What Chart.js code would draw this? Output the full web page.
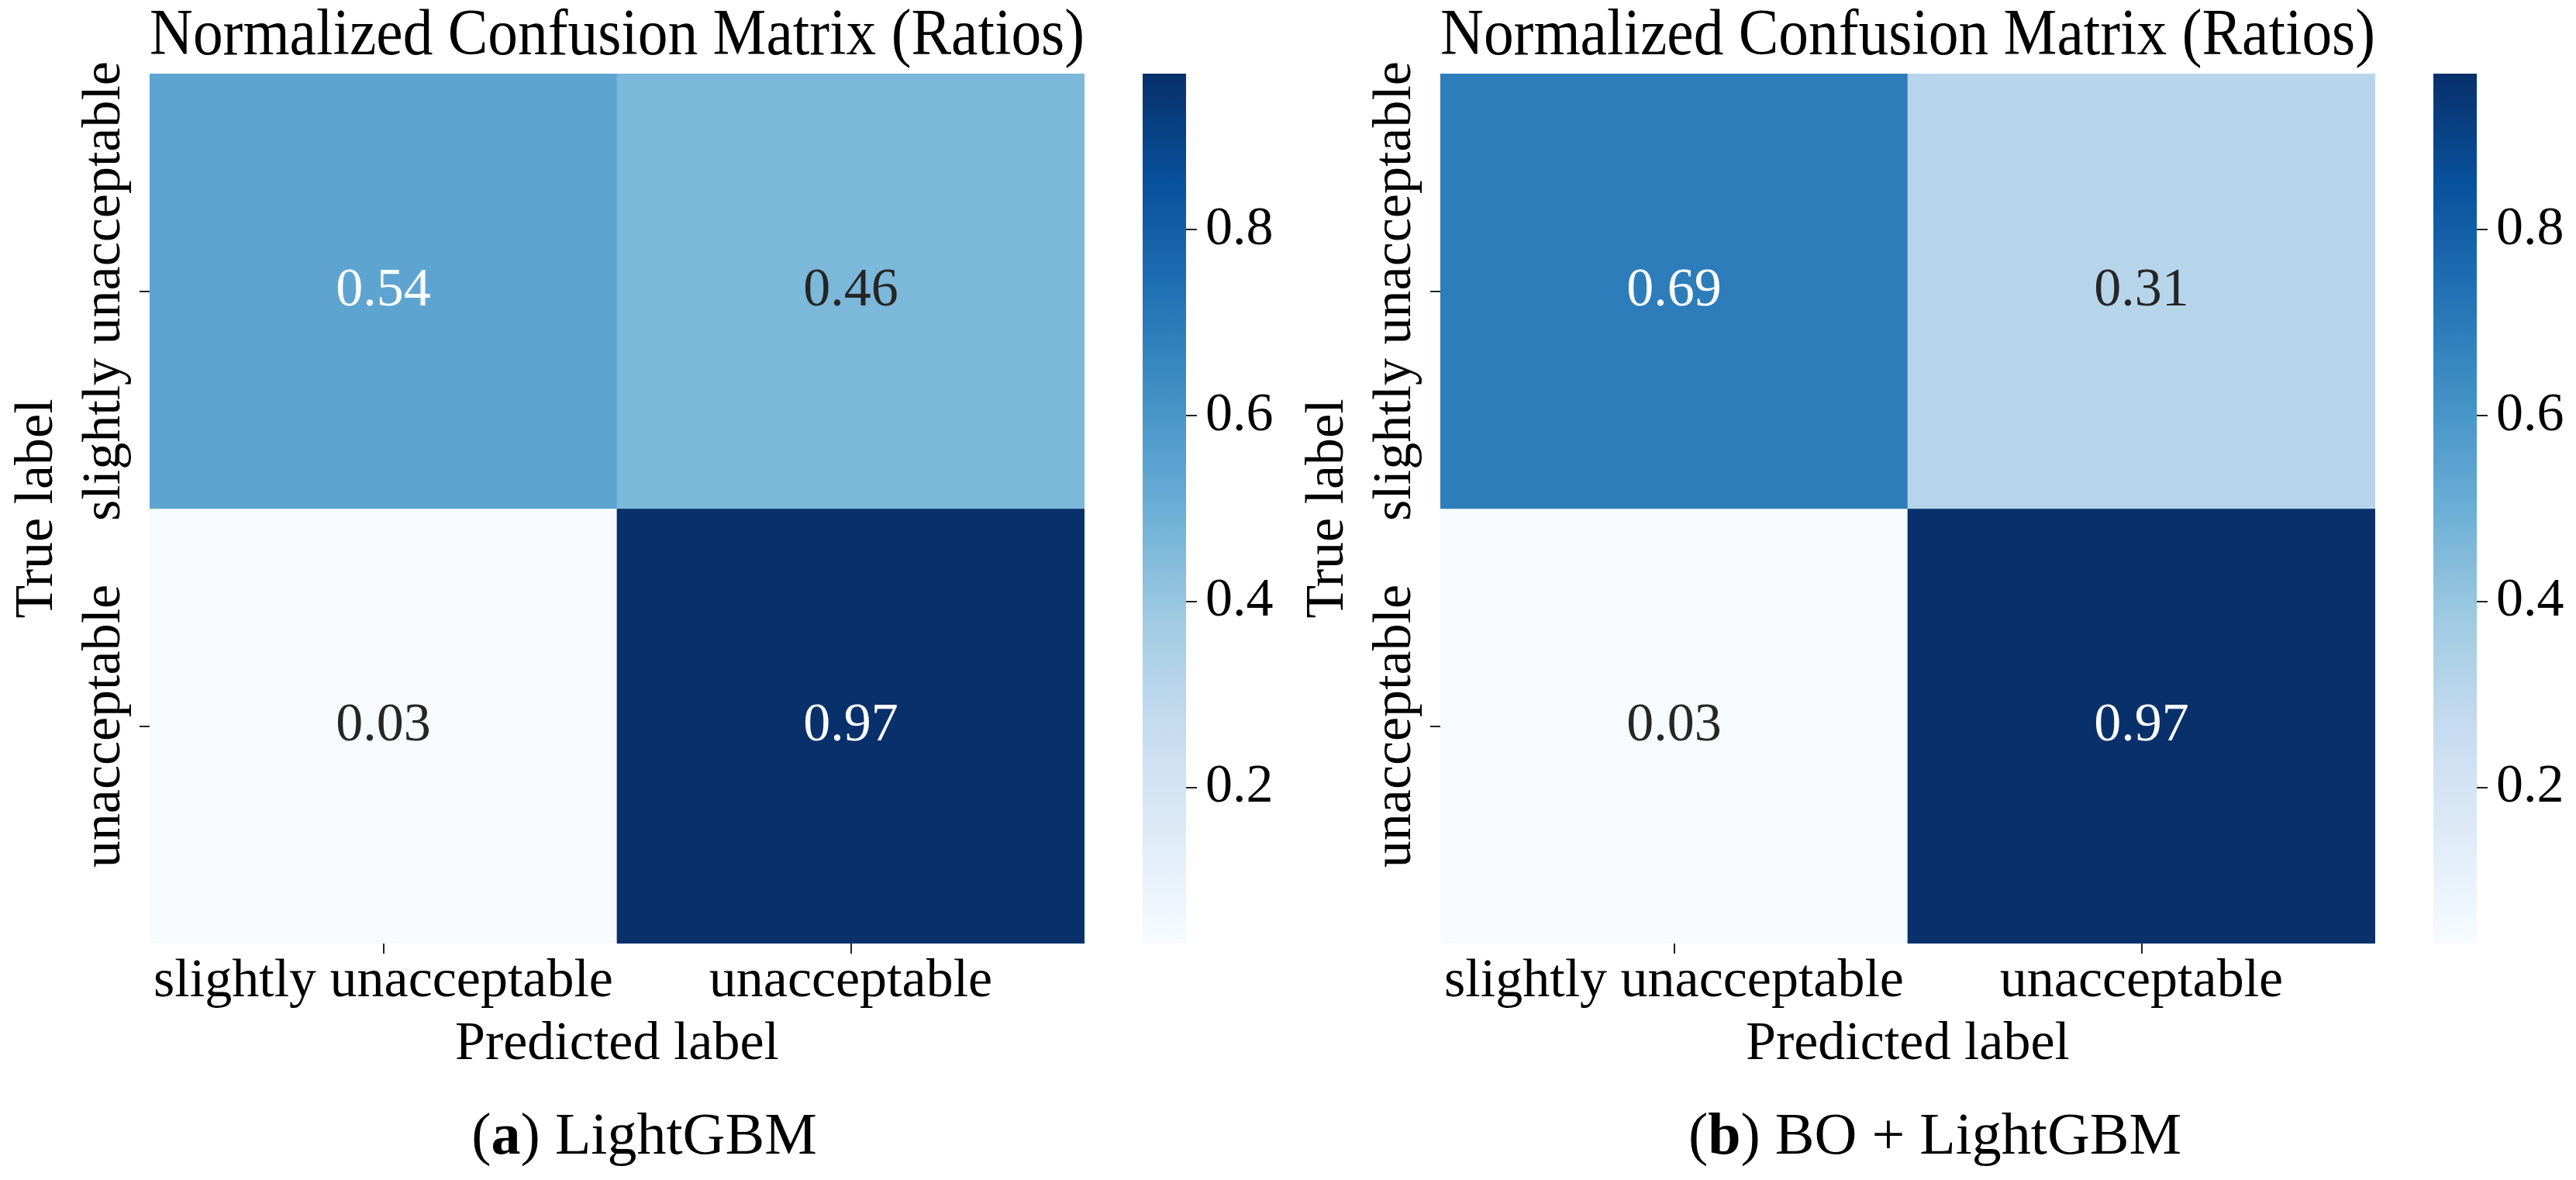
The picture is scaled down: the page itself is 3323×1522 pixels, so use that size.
<!DOCTYPE html>
<html>
<head>
<meta charset="utf-8">
<script src="https://cdn.jsdelivr.net/npm/chart.js@4.4.1/dist/chart.umd.min.js"></script>
<style>
  html, body { margin: 0; padding: 0; background: #ffffff; }
  body { width: 3323px; height: 1522px; position: relative; overflow: hidden;
         font-family: "Liberation Serif", "Times New Roman", serif; }
  .box { position: absolute; }
  .cap { position: absolute; top: 1424px; font-size: 76px; line-height: 76px; white-space: nowrap;
         transform: translateX(-50%); color: #000; }
</style>
</head>
<body>
<div class="box" style="left:0px;top:0px;width:1420px;height:1417px"><canvas id="heatA"></canvas></div>
<div class="box" style="left:1400px;top:0px;width:250px;height:1417px"><canvas id="barA"></canvas></div>
<div class="box" style="left:1665px;top:0px;width:1420px;height:1417px"><canvas id="heatB"></canvas></div>
<div class="box" style="left:3065px;top:0px;width:250px;height:1417px"><canvas id="barB"></canvas></div>
<div class="cap" style="left:831px">(<b>a</b>) LightGBM</div>
<div class="cap" style="left:2496px">(<b>b</b>) BO + LightGBM</div>

<script>
// ---------------- data ----------------
const predictedLabels = ['slightly unacceptable', 'unacceptable'];
const trueLabels = ['slightly unacceptable', 'unacceptable'];
const ratiosLightGBM = [[0.54, 0.46], [0.032, 0.968]];
const ratiosBOLightGBM = [[0.69, 0.31], [0.032, 0.968]];
const colorbarTicks = [0.2, 0.4, 0.6, 0.8];
const chartTitle = 'Normalized Confusion Matrix (Ratios)';
const xAxisTitle = 'Predicted label';
const yAxisTitle = 'True label';

// ---------------- style ----------------
const FONT = '"Liberation Serif", "Times New Roman", serif';
const BLUES = ['#f7fbff', '#deebf7', '#c6dbef', '#9ecae1', '#6baed6', '#4292c6', '#2171b5', '#08519c', '#08306b'];
const TICK_COLOR = '#222222';

function hexToRgb(h) {
  return [parseInt(h.slice(1, 3), 16), parseInt(h.slice(3, 5), 16), parseInt(h.slice(5, 7), 16)];
}
function blues(t) {
  t = Math.max(0, Math.min(1, t));
  const p = t * 8;
  const i = Math.min(7, Math.floor(p));
  const f = p - i;
  const a = hexToRgb(BLUES[i]), b = hexToRgb(BLUES[i + 1]);
  const c = a.map((v, k) => Math.round(v + (b[k] - v) * f));
  return 'rgb(' + c.join(',') + ')';
}
function luminance(rgbStr) {
  const c = rgbStr.match(/\d+/g).map(Number).map(v => {
    v /= 255;
    return v <= 0.03928 ? v / 12.92 : Math.pow((v + 0.055) / 1.055, 2.4);
  });
  return 0.2126 * c[0] + 0.7152 * c[1] + 0.0722 * c[2];
}

const cellLabelPlugin = {
  id: 'cellLabels',
  afterDatasetsDraw(chart) {
    const ctx = chart.ctx;
    ctx.save();
    ctx.font = '70px ' + FONT;
    ctx.textAlign = 'center';
    ctx.textBaseline = 'alphabetic';
    chart.data.datasets.forEach((ds, di) => {
      const meta = chart.getDatasetMeta(di);
      meta.data.forEach((el, j) => {
        const v = ds.values[j];
        ctx.fillStyle = luminance(ds.backgroundColor[j]) > 0.408 ? '#262626' : '#ffffff';
        ctx.fillText(v.toFixed(2), el.x, (el.y + el.base) / 2 + 18);
      });
    });
    ctx.restore();
  }
};

const yTickLabelPlugin = {
  id: 'yTickLabels',
  afterDraw(chart) {
    const s = chart.scales.y, ctx = chart.ctx;
    ctx.save();
    ctx.font = '70px ' + FONT;
    ctx.fillStyle = '#000000';
    ctx.textAlign = 'center';
    ctx.textBaseline = 'alphabetic';
    trueLabels.forEach((lab, i) => {
      const y = s.getPixelForValue(i + 0.5);
      ctx.save();
      ctx.translate(s.right - 39, y);
      ctx.rotate(-Math.PI / 2);
      ctx.fillText(lab, 0, 0);
      ctx.restore();
    });
    ctx.restore();
  }
};

function heatmap(canvasId, matrix) {
  const flat = matrix.flat();
  const vmin = Math.min(...flat), vmax = Math.max(...flat);
  const color = v => blues((v - vmin) / (vmax - vmin));
  const datasets = matrix.map((row, r) => ({
    data: row.map(() => [r, r + 1]),
    values: row,
    backgroundColor: row.map(color),
    borderWidth: 0,
    barPercentage: 1,
    categoryPercentage: 1,
    grouped: false
  }));
  return new Chart(document.getElementById(canvasId), {
    type: 'bar',
    data: { labels: predictedLabels, datasets },
    options: {
      responsive: true,
      maintainAspectRatio: false,
      animation: false,
      layout: { padding: { left: 0, right: 21, top: 0, bottom: 0 } },
      plugins: {
        legend: { display: false },
        tooltip: { enabled: false },
        title: {
          display: true, text: chartTitle, fullSize: false, color: '#000000',
          font: { family: FONT, size: 84, weight: 'normal', lineHeight: 1 },
          padding: { top: 6, bottom: 5 }
        }
      },
      scales: {
        x: {
          type: 'category',
          offset: true,
          grid: { offset: false, drawOnChartArea: false, drawTicks: true, tickLength: 13, color: TICK_COLOR, lineWidth: 2 },
          border: { display: false },
          ticks: { color: '#000000', font: { family: FONT, size: 70, lineHeight: 1 }, padding: 2,
                   maxRotation: 0, minRotation: 0, autoSkip: false },
          title: { display: true, text: xAxisTitle, color: '#000000',
                   font: { family: FONT, size: 70, lineHeight: 1 }, padding: { top: 0, bottom: 34 } },
          afterFit: s => { s.height = 200; }
        },
        y: {
          type: 'linear',
          min: 0, max: 2,
          reverse: true,
          grid: { drawOnChartArea: false, drawTicks: true, tickLength: 13, color: TICK_COLOR, lineWidth: 2 },
          border: { display: false },
          afterBuildTicks: s => { s.ticks = trueLabels.map((_, i) => ({ value: i + 0.5 })); },
          ticks: { display: false },
          title: { display: true, text: yAxisTitle, color: '#000000',
                   font: { family: FONT, size: 70, lineHeight: 1 }, padding: { top: 14, bottom: 0 } },
          afterFit: s => { s.width = 193; }
        }
      }
    },
    plugins: [cellLabelPlugin, yTickLabelPlugin]
  });
}

function colorbar(canvasId, matrix) {
  const flat = matrix.flat();
  const vmin = Math.min(...flat), vmax = Math.max(...flat);
  return new Chart(document.getElementById(canvasId), {
    type: 'bar',
    data: {
      labels: [''],
      datasets: [{
        data: [[vmin, vmax]],
        borderWidth: 0,
        barPercentage: 1,
        categoryPercentage: 1,
        backgroundColor: (c) => {
          const ch = c.chart;
          if (!ch.chartArea) return BLUES[4];
          const y0 = ch.scales.y.getPixelForValue(vmin);
          const y1 = ch.scales.y.getPixelForValue(vmax);
          const g = ch.ctx.createLinearGradient(0, y0, 0, y1);
          BLUES.forEach((col, i) => g.addColorStop(i / 8, col));
          return g;
        }
      }]
    },
    options: {
      responsive: true,
      maintainAspectRatio: false,
      animation: false,
      layout: { padding: { left: 74, right: 0, top: 95, bottom: 200 } },
      plugins: { legend: { display: false }, tooltip: { enabled: false } },
      scales: {
        x: { display: false },
        y: {
          position: 'right',
          min: vmin, max: vmax,
          afterBuildTicks: s => { s.ticks = colorbarTicks.map(v => ({ value: v })); },
          ticks: { callback: v => Number(v).toFixed(1), color: '#000000',
                   font: { family: FONT, size: 70, lineHeight: 1 }, padding: 11 },
          grid: { drawOnChartArea: false, drawTicks: true, tickLength: 14, color: TICK_COLOR, lineWidth: 2 },
          border: { display: false },
          afterFit: s => { s.width = 120; }
        }
      }
    }
  });
}

heatmap('heatA', ratiosLightGBM);
colorbar('barA', ratiosLightGBM);
heatmap('heatB', ratiosBOLightGBM);
colorbar('barB', ratiosBOLightGBM);
</script>
</body>
</html>
